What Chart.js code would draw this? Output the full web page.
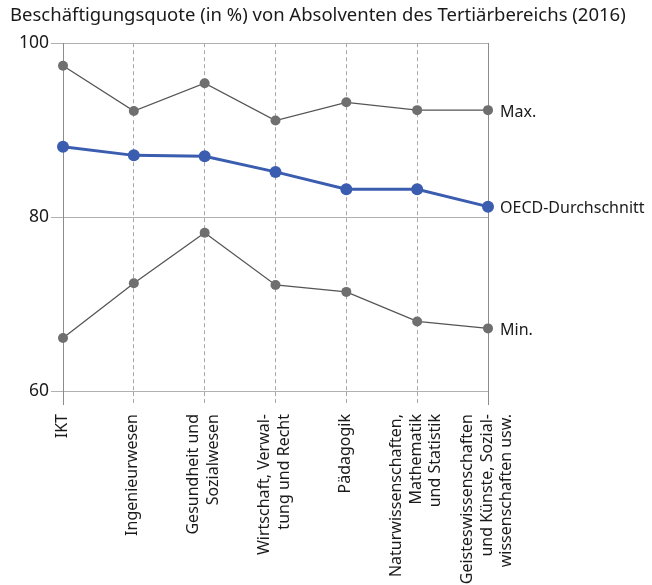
<!DOCTYPE html>
<html>
<head>
<meta charset="utf-8">
<script src="https://cdn.jsdelivr.net/npm/chart.js@4/dist/chart.umd.min.js"></script>
<style>
  html, body { margin: 0; padding: 0; background: #fff; }
  #wrap { width: 652px; height: 585px; position: relative; }
</style>
</head>
<body>
<div id="wrap"><canvas id="chart"></canvas></div>
<script>
const categories = [
    ['IKT'],
    ['Ingenieurwesen'],
    ['Gesundheit und', 'Sozialwesen'],
    ['Wirtschaft, Verwal-', 'tung und Recht'],
    ['Pädagogik'],
    ['Naturwissenschaften,', 'Mathematik', 'und Statistik'],
    ['Geisteswissenschaften', 'und Künste, Sozial-', 'wissenschaften usw.']
];
const maxValues = [97.4, 92.2, 95.4, 91.1, 93.2, 92.3, 92.3];
const oecdValues = [88.1, 87.1, 87.0, 85.2, 83.2, 83.2, 81.2];
const minValues = [66.1, 72.4, 78.2, 72.2, 71.4, 68.0, 67.2];
const seriesNames = ['Max.', 'OECD-Durchschnitt', 'Min.'];
const yTicks = [60, 80, 100];

const FONT = '"Noto Sans", sans-serif';
const gray = '#6f6f6f';
const blue = '#3a5db0';
const lastIdx = categories.length - 1;

// rotated, centred multi-line category labels under the x axis
const xLabelsPlugin = {
    id: 'xLabels',
    afterDraw(chart) {
        const ctx = chart.ctx;
        const xs = chart.scales.x;
        const top = chart.chartArea.bottom + 23;
        const lh = 19.5;
        ctx.save();
        ctx.font = '16px ' + FONT;
        ctx.fillStyle = '#1a1a1a';
        ctx.textAlign = 'right';
        ctx.textBaseline = 'middle';
        categories.forEach((lines, i) => {
            const x = xs.getPixelForValue(i);
            lines.forEach((line, j) => {
                const cx = x + (j - (lines.length - 1) / 2) * lh - 1;
                ctx.save();
                ctx.translate(cx, top);
                ctx.rotate(-Math.PI / 2);
                ctx.fillText(line, 0, 0);
                ctx.restore();
            });
        });
        ctx.restore();
    }
};

// series names next to the last point
const endLabelsPlugin = {
    id: 'endLabels',
    afterDatasetsDraw(chart) {
        const ctx = chart.ctx;
        ctx.save();
        ctx.font = '16px ' + FONT;
        ctx.fillStyle = '#1a1a1a';
        ctx.textAlign = 'left';
        ctx.textBaseline = 'middle';
        chart.data.datasets.forEach((ds, d) => {
            const pt = chart.getDatasetMeta(d).data[lastIdx];
            ctx.fillText(seriesNames[d], pt.x + 12, pt.y + 2);
        });
        ctx.restore();
    }
};

new Chart(document.getElementById('chart'), {
    type: 'line',
    data: {
        labels: categories,
        datasets: [
            {
                label: seriesNames[0],
                data: maxValues,
                borderColor: '#555',
                borderWidth: 1.3,
                pointBackgroundColor: gray,
                pointBorderWidth: 0,
                pointRadius: 5
            },
            {
                label: seriesNames[1],
                data: oecdValues,
                borderColor: blue,
                borderWidth: 3,
                pointBackgroundColor: blue,
                pointBorderWidth: 0,
                pointRadius: 6
            },
            {
                label: seriesNames[2],
                data: minValues,
                borderColor: '#555',
                borderWidth: 1.3,
                pointBackgroundColor: gray,
                pointBorderWidth: 0,
                pointRadius: 5
            }
        ]
    },
    options: {
        responsive: true,
        maintainAspectRatio: false,
        animation: false,
        layout: { padding: { left: 10, right: 0, top: 0, bottom: 0 } },
        scales: {
            x: {
                type: 'category',
                offset: false,
                ticks: { display: false },
                grid: {
                    color: '#a8a8a8',
                    tickLength: 14,
                    tickColor: (c) => (c.index === 0 || c.index === lastIdx) ? '#8c8c8c' : '#a8a8a8',
                    tickBorderDash: (c) => (c.index === 0 || c.index === lastIdx) ? [] : [4, 3]
                },
                border: { display: true, color: '#b0b0b0', dash: [4, 3] },
                afterFit: (s) => { s.height = 194; }
            },
            y: {
                min: 60,
                max: 100,
                afterBuildTicks: (s) => { s.ticks = yTicks.map(v => ({ value: v })); },
                ticks: {
                    color: '#1a1a1a',
                    font: { family: FONT, size: 17.5 },
                    padding: 2
                },
                grid: { color: '#b0b0b0', tickLength: 12 },
                border: { color: '#8c8c8c' },
                afterFit: (s) => { s.width = 53; }
            },
            y2: {
                position: 'right',
                min: 60,
                max: 100,
                ticks: { display: false },
                grid: { display: false },
                border: { display: true, color: '#8c8c8c' },
                afterFit: (s) => { s.width = 164; }
            }
        },
        plugins: {
            legend: { display: false },
            tooltip: { enabled: false },
            title: {
                display: true,
                text: 'Beschäftigungsquote (in %) von Absolventen des Tertiärbereichs (2016)',
                align: 'start',
                color: '#1a1a1a',
                font: { family: FONT, size: 18.5, weight: 'normal' },
                padding: { top: 5, bottom: 16 }
            }
        }
    },
    plugins: [xLabelsPlugin, endLabelsPlugin]
});
</script>
</body>
</html>
